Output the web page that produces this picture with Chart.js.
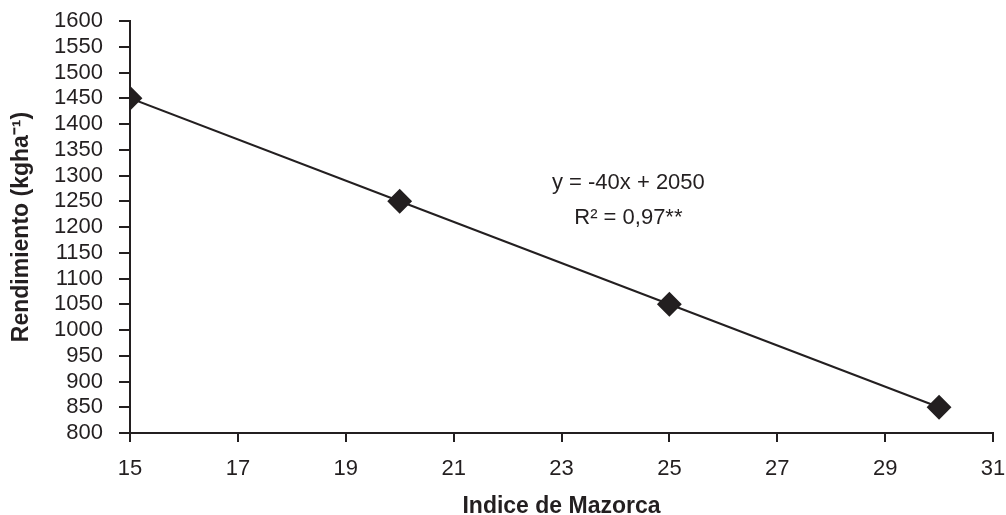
<!DOCTYPE html>
<html>
<head>
<meta charset="utf-8">
<script src="https://cdn.jsdelivr.net/npm/chart.js@4.4.4/dist/chart.umd.min.js"></script>
<style>
  html, body { margin: 0; padding: 0; background: #fff; }
  #wrap { width: 1006px; height: 515px; }
</style>
</head>
<body>
<div id="wrap"><canvas id="chart"></canvas></div>
<script>
// Data
const indice = [15, 20, 25, 30];
const rendimiento = [1450, 1250, 1050, 850];
const xTicks = [15, 17, 19, 21, 23, 25, 27, 29, 31];
const equationLines = ['y = -40x + 2050', 'R² = 0,97**'];

const ink = '#231f20';
const font = 'Liberation Sans, Arial, sans-serif';

// Draw the regression equation text inside the plot
const equationLabel = {
    id: 'equationLabel',
    afterDatasetsDraw(chart) {
        const { ctx, scales } = chart;
        const x = scales.x.getPixelForValue(24.24);
        const y = scales.y.getPixelForValue(1285);
        ctx.save();
        ctx.fillStyle = ink;
        ctx.font = '22px ' + font;
        ctx.textAlign = 'center';
        ctx.textBaseline = 'middle';
        equationLines.forEach((t, i) => ctx.fillText(t, x, y + i * 35));
        ctx.restore();
    }
};

new Chart(document.getElementById('chart').getContext('2d'), {
    type: 'scatter',
    data: {
        datasets: [{
            data: indice.map((x, i) => ({ x, y: rendimiento[i] })),
            showLine: true,
            borderColor: ink,
            borderWidth: 2,
            backgroundColor: ink,
            pointStyle: 'rectRot',
            pointRadius: 11,
            pointHoverRadius: 11
        }]
    },
    options: {
        responsive: true,
        maintainAspectRatio: false,
        animation: false,
        layout: { padding: { top: 21, right: 12, left: 0, bottom: 0 } },
        plugins: {
            legend: { display: false },
            tooltip: { enabled: false }
        },
        scales: {
            x: {
                type: 'linear',
                min: 15,
                max: 31,
                afterBuildTicks: s => { s.ticks = xTicks.map(v => ({ value: v })); },
                afterFit: s => { s.height = 82; s.paddingLeft = 0; s.paddingRight = 0; },
                grid: { drawOnChartArea: false, drawTicks: true, tickLength: 9, color: ink, lineWidth: 2 },
                border: { color: ink, width: 2 },
                ticks: { color: ink, font: { family: font, size: 22 }, padding: 14, callback: v => String(v) },
                title: { display: true, text: 'Indice de Mazorca', color: ink, font: { family: font, size: 23, weight: 'bold' }, padding: { top: 12, bottom: -5 } }
            },
            y: {
                min: 800,
                max: 1600,
                afterFit: s => { s.width = 130; s.paddingTop = 0; s.paddingBottom = 0; },
                grid: { drawOnChartArea: false, drawTicks: true, tickLength: 11, color: ink, lineWidth: 2 },
                border: { color: ink, width: 2 },
                ticks: { stepSize: 50, color: ink, font: { family: font, size: 22 }, padding: 16, autoSkip: false, callback: v => String(v) },
                title: { display: true, text: 'Rendimiento (kgha⁻¹)', color: ink, font: { family: font, size: 23, weight: 'bold' }, padding: { top: 8, bottom: 0 } }
            }
        }
    },
    plugins: [equationLabel]
});
</script>
</body>
</html>
